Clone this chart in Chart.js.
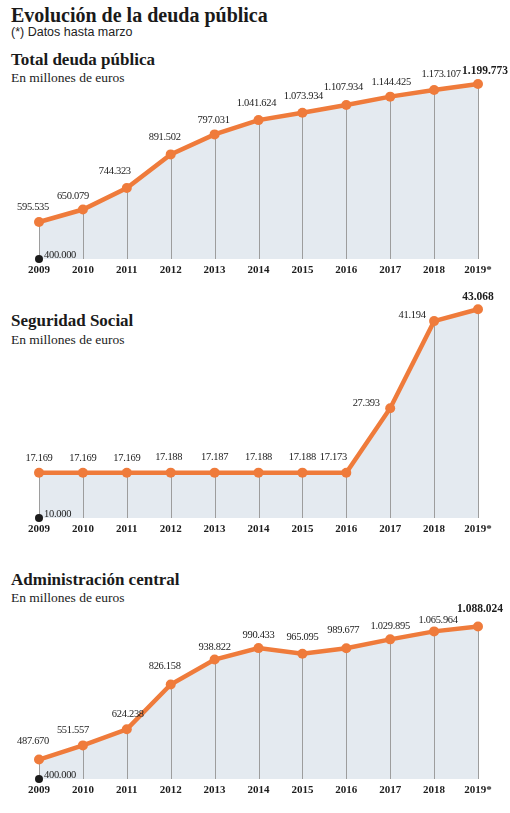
<!DOCTYPE html>
<html lang="es">
<head>
<meta charset="utf-8">
<title>Evolución de la deuda pública</title>
<script src="https://cdn.jsdelivr.net/npm/chart.js@4.4.1/dist/chart.umd.min.js"></script>
<style>
  html, body { margin: 0; padding: 0; background: #fff; }
  #page { position: relative; width: 510px; height: 813px; overflow: hidden; font-family: "Liberation Serif", serif; color: #1a1a1a; }
  .txt { position: absolute; left: 11px; white-space: nowrap; }
  .main { font-weight: bold; font-size: 20px; line-height: 20px; }
  .note { font-family: "Liberation Sans", sans-serif; font-size: 12.5px; line-height: 12px; color: #222; }
  .head { font-weight: bold; font-size: 17px; line-height: 17px; }
  .unit { font-size: 13.5px; line-height: 12px; color: #222; }
  canvas { position: absolute; left: 0; }
</style>
</head>
<body>
<div id="page">
  <div class="txt main" style="top:5px">Evolución de la deuda pública</div>
  <div class="txt note" style="top:26px">(*) Datos hasta marzo</div>

  <div class="txt head" style="top:51px">Total deuda pública</div>
  <div class="txt unit" style="top:72px">En millones de euros</div>

  <div class="txt head" style="top:312px">Seguridad Social</div>
  <div class="txt unit" style="top:334px">En millones de euros</div>

  <div class="txt head" style="top:571px">Administración central</div>
  <div class="txt unit" style="top:592px">En millones de euros</div>

  <canvas id="canvTotal" width="510" height="224" style="top:55px"></canvas>
  <canvas id="canvSocial" width="510" height="253" style="top:285px"></canvas>
  <canvas id="canvCentral" width="510" height="204" style="top:595px"></canvas>
</div>

<script>
// datos (millones de euros)
var years = ['2009', '2010', '2011', '2012', '2013', '2014', '2015', '2016', '2017', '2018', '2019*'];

var totalValues = [595535, 650079, 744323, 891502, 979031, 1041624, 1073934, 1107934, 1144425, 1173107, 1199773];
var totalLabels = ['595.535', '650.079', '744.323', '891.502', '797.031', '1.041.624', '1.073.934', '1.107.934', '1.144.425', '1.173.107', '1.199.773'];

var socialValues = [17169, 17169, 17169, 17188, 17187, 17188, 17188, 17173, 27393, 41194, 43068];
var socialLabels = ['17.169', '17.169', '17.169', '17.188', '17.187', '17.188', '17.188', '17.173', '27.393', '41.194', '43.068'];

var centralValues = [487670, 551557, 624238, 826158, 938822, 990433, 965095, 989677, 1029895, 1065964, 1088024];
var centralLabels = ['487.670', '551.557', '624.238', '826.158', '938.822', '990.433', '965.095', '989.677', '1.029.895', '1.065.964', '1.088.024'];

var baseLabels = ['400.000', '10.000', '400.000'];

// desplazamiento de las etiquetas respecto al punto
var totalDx = [-6, -10, -12, -6, -1, -2, 1, -3, 1, 7, 7];
var totalDy = [-15, -13, -17, -17, -14, -17, -16, -18, -14, -16, -13];
var socialDx = [0, 0, 0, -2, 0, 0, 0, -13, -24, -22, 0];
var socialDy = [-15, -15, -15, -15, -15, -15, -15, -15, -5, -6, -12];
var centralDx = [-6, -10, 1, -6, 0, 0, 0, -3, 0, 4, 2];
var centralDy = [-18, -15, -15, -18, -12, -13, -16, -18, -13, -11, -17];

var ORANGE = '#ef7b3b',
    FILL = '#e4eaf0',
    GRID = '#9d9d9d',
    INK = '#1c1c1c';

var _charts = [];

window.onload = function () {
    _charts.push(buildChart('canvTotal', totalValues, totalLabels, baseLabels[0], 433500, 1261000, totalDx, totalDy));
    _charts.push(buildChart('canvSocial', socialValues, socialLabels, baseLabels[1], 10000, 44540, socialDx, socialDy));
    _charts.push(buildChart('canvCentral', centralValues, centralLabels, baseLabels[2], 400000, 1162400, centralDx, centralDy));
};

// lineas verticales desde cada punto hasta la base
var dropLines = {
    id: 'dropLines',
    beforeDatasetsDraw: function (chart) {
        var ctx = chart.ctx, area = chart.chartArea;
        var points = chart.getDatasetMeta(0).data;
        ctx.save();
        ctx.strokeStyle = GRID;
        ctx.lineWidth = 1;
        points.forEach(function (p) {
            var x = Math.round(p.x) + 0.5;
            ctx.beginPath();
            ctx.moveTo(x, p.y);
            ctx.lineTo(x, area.bottom);
            ctx.stroke();
        });
        ctx.restore();
    }
};

// etiquetas de valor y marca de origen
var valueLabels = {
    id: 'valueLabels',
    afterDatasetsDraw: function (chart) {
        var ctx = chart.ctx, area = chart.chartArea;
        var opts = chart.options.plugins.valueLabels;
        var points = chart.getDatasetMeta(0).data;
        var last = points.length - 1;

        ctx.save();
        ctx.fillStyle = INK;
        ctx.textAlign = 'center';
        ctx.textBaseline = 'middle';
        points.forEach(function (p, i) {
            if (i === last) {
                ctx.font = 'bold 11.5px "Liberation Serif"';
                ctx.letterSpacing = '0px';
            } else {
                ctx.font = '10.5px "Liberation Serif"';
                ctx.letterSpacing = '-0.3px';
            }
            ctx.fillText(opts.labels[i], p.x + opts.dx[i], p.y + opts.dy[i]);
        });

        // punto negro del origen
        ctx.beginPath();
        ctx.arc(area.left, area.bottom, 4, 0, Math.PI * 2);
        ctx.fill();

        ctx.font = '10.5px "Liberation Serif"';
        ctx.letterSpacing = '-0.3px';
        ctx.textAlign = 'left';
        ctx.fillText(opts.base, area.left + 5, area.bottom - 4);
        ctx.restore();
    }
};

function buildChart(idCanvas, values, labels, base, min, max, dx, dy) {
    var ctx = document.getElementById(idCanvas).getContext('2d');

    return new Chart(ctx, {
        type: 'line',
        data: {
            labels: years,
            datasets: [{
                data: values,
                borderColor: ORANGE,
                borderWidth: 4.5,
                backgroundColor: FILL,
                fill: 'start',
                tension: 0,
                pointRadius: 5,
                pointBackgroundColor: ORANGE,
                pointBorderColor: ORANGE,
                pointBorderWidth: 0
            }]
        },
        options: {
            responsive: false,
            animation: false,
            layout: {
                padding: {left: 39, right: 32, top: 15, bottom: 0}
            },
            scales: {
                x: {
                    offset: false,
                    grid: {display: false, drawTicks: false},
                    border: {display: false},
                    ticks: {
                        color: INK,
                        padding: 5,
                        maxRotation: 0,
                        autoSkip: false,
                        font: {family: '"Liberation Serif"', size: 11, weight: 'bold'}
                    },
                    afterFit: function (scale) {
                        scale.height = 20;
                    }
                },
                y: {
                    display: false,
                    min: min,
                    max: max
                }
            },
            plugins: {
                legend: {display: false},
                tooltip: {enabled: false},
                filler: {drawTime: 'beforeDatasetsDraw'},
                valueLabels: {labels: labels, base: base, dx: dx, dy: dy}
            }
        },
        plugins: [dropLines, valueLabels]
    });
}
</script>
</body>
</html>
